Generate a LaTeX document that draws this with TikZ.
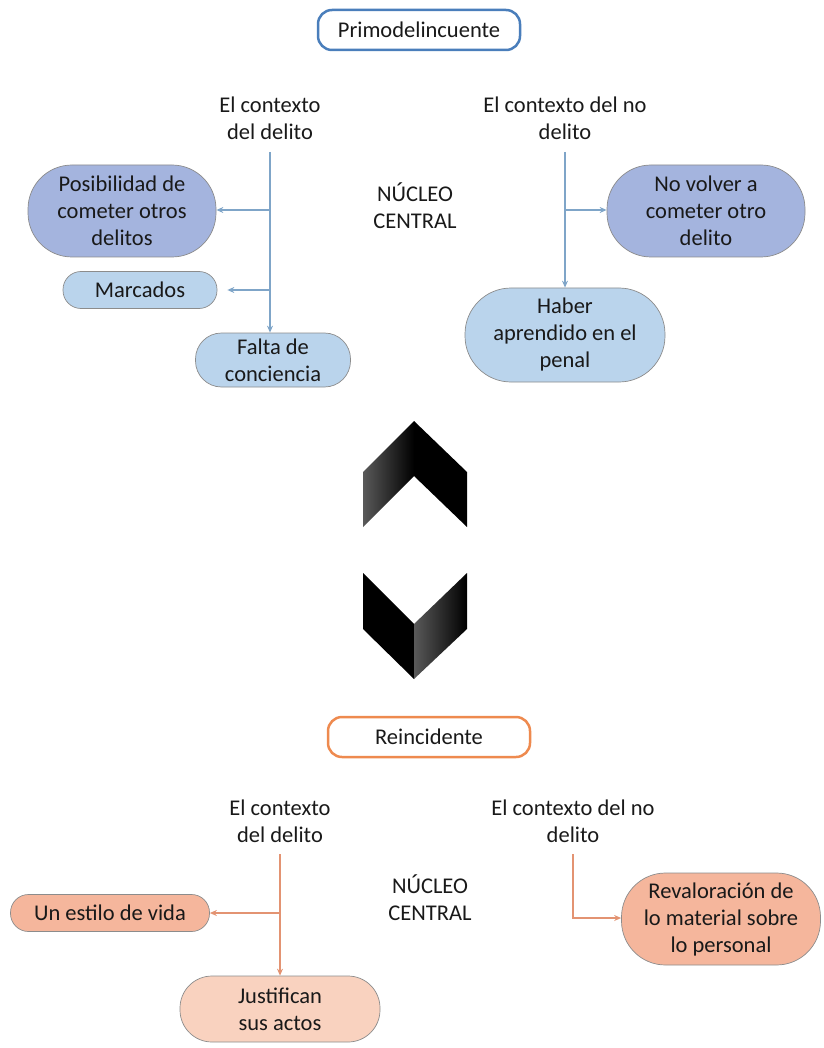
\documentclass[tikz,border=0pt]{standalone}
\usepackage{fontspec}
\setmainfont{Carlito}
\usetikzlibrary{arrows.meta}
\definecolor{bluebd}{HTML}{4A7EBB}
\definecolor{orangebd}{HTML}{EE8A4F}
\definecolor{bluedark}{HTML}{A4B4DE}
\definecolor{bluelight}{HTML}{BAD4EC}
\definecolor{salmon}{HTML}{F5B69C}
\definecolor{peach}{HTML}{F9D2BF}
\definecolor{bline}{HTML}{7FA5C8}
\definecolor{oline}{HTML}{E39372}
\tikzset{
  txt/.style={font=\fontsize{22.5}{27}\selectfont, align=center, inner sep=0pt, text=black!90},
  pill/.style={txt, draw=black!45, line width=0.7pt, rounded corners=#1},
  hdrB/.style={txt, draw=bluebd, fill=white, line width=2.5pt, rounded corners=14pt, minimum width=202pt, minimum height=40pt},
  hdrO/.style={txt, draw=orangebd, fill=white, line width=2.5pt, rounded corners=14pt, minimum width=202pt, minimum height=40pt},
  bcon/.style={draw=bline, line width=1.2pt, -{Stealth[length=7pt,width=6pt]}},
  ocon/.style={draw=oline, line width=1.2pt, -{Stealth[length=7pt,width=6pt]}}
}
\begin{document}
\begin{tikzpicture}[x=1pt,y=-1pt]
\useasboundingbox (0,0) rectangle (823,1048);
% ---------- top part ----------
\node[hdrB] (prim) at (419,30) {Primodelincuente};
\node[txt] (ctxA) at (270,118) {El contexto\\del delito};
\node[txt] (ctxB) at (565,118) {El contexto del no\\delito};
\node[txt] (nucA) at (415,206) {NÚCLEO\\CENTRAL};
\node[pill=44pt, fill=bluedark, minimum width=188pt, minimum height=92pt] (pos) at (122,211) {Posibilidad de\\cometer otros\\delitos};
\node[pill=18pt, fill=bluelight, minimum width=154pt, minimum height=37pt] (mar) at (140,290) {Marcados};
\node[pill=26pt, fill=bluelight, minimum width=155pt, minimum height=54pt] (fal) at (273,360) {Falta de\\conciencia};
\node[pill=44pt, fill=bluedark, minimum width=198pt, minimum height=92pt] (nov) at (706,211) {No volver a\\cometer otro\\delito};
\node[pill=46pt, fill=bluelight, minimum width=200pt, minimum height=94pt] (hab) at (565,335) {Haber\\aprendido en el\\penal};
\coordinate (a0) at (270,152);
\coordinate (a1) at (270,210);
\coordinate (a2) at (270,290);
\coordinate (b0) at (565,152);
\coordinate (b1) at (565,210);
\draw[bcon] (a0) -- (a0 |- fal.north);
\draw[bcon] (a1) -- (pos.east |- a1);
\draw[bcon] (a2) -- ([xshift=10pt]mar.east |- a2);
\draw[bcon] (b0) -- (b0 |- hab.north);
\draw[bcon] (b1) -- (nov.west |- b1);
% ---------- chevrons ----------
\shade[left color=black!65, right color=black] (363,472) -- (414,421) -- (414,476) -- (363,527) -- cycle;
\fill[black] (414,421) -- (467,472) -- (467,527) -- (414,476) -- cycle;
\fill[black] (363,573) -- (414,624) -- (414,679) -- (363,629) -- cycle;
\shade[left color=black!65, right color=black] (414,624) -- (467,573) -- (467,629) -- (414,679) -- cycle;
% ---------- bottom part ----------
\node[hdrO] (rein) at (429,737) {Reincidente};
\node[txt] (ctxC) at (280,821) {El contexto\\del delito};
\node[txt] (ctxD) at (573,821) {El contexto del no\\delito};
\node[txt] (nucB) at (430,898) {NÚCLEO\\CENTRAL};
\node[pill=18pt, fill=salmon, minimum width=199pt, minimum height=37pt] (est) at (110,913) {Un estilo de vida};
\node[pill=32pt, fill=peach, minimum width=200pt, minimum height=66pt] (jus) at (280,1009) {Justifican\\sus actos};
\node[pill=44pt, fill=salmon, minimum width=199pt, minimum height=92pt] (rev) at (721,919) {Revaloración de\\lo material sobre\\lo personal};
\coordinate (c0) at (280,854);
\coordinate (c1) at (280,913);
\coordinate (d0) at (573,854);
\coordinate (d1) at (573,918);
\draw[ocon] (c0) -- (c0 |- jus.north);
\draw[ocon] (c1) -- (est.east |- c1);
\draw[ocon] (d0) -- (d1) -- (rev.west |- d1);
\end{tikzpicture}
\end{document}
